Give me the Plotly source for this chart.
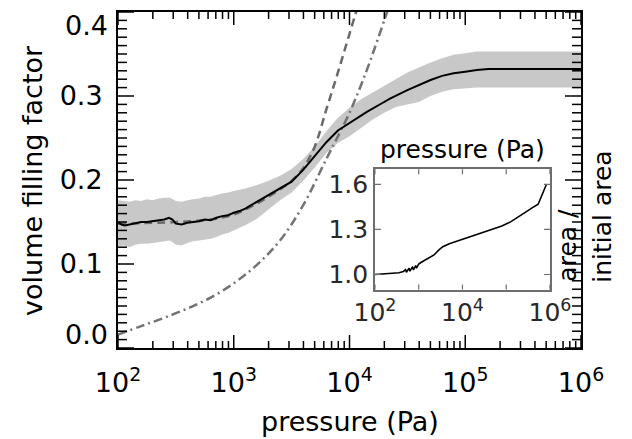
import math
import plotly.graph_objects as go

# ---------------- data ----------------
# main black curve: log10(pressure) and volume filling factor
main_logp = [2.00, 2.03, 2.06, 2.10, 2.15, 2.20, 2.25, 2.30, 2.35, 2.40, 2.44, 2.47, 2.50,
             2.55, 2.60, 2.65, 2.70, 2.75, 2.80, 2.85, 2.90, 2.95, 3.00, 3.05, 3.10, 3.15,
             3.20, 3.25, 3.30, 3.35, 3.40, 3.45, 3.50, 3.60, 3.70, 3.80, 3.90, 4.00, 4.06,
             4.15, 4.25, 4.35, 4.50, 4.60, 4.70, 4.80, 4.90, 5.00, 5.10, 5.20, 5.50, 6.00]
main_phi = [0.150, 0.147, 0.146, 0.147, 0.149, 0.150, 0.150, 0.151, 0.152, 0.153, 0.155, 0.153, 0.148,
            0.147, 0.149, 0.150, 0.151, 0.153, 0.152, 0.155, 0.157, 0.158, 0.161, 0.163, 0.166, 0.170,
            0.174, 0.177, 0.182, 0.186, 0.190, 0.194, 0.198, 0.212, 0.228, 0.245, 0.259, 0.268, 0.273,
            0.281, 0.289, 0.297, 0.307, 0.313, 0.319, 0.324, 0.327, 0.329, 0.331, 0.332, 0.332, 0.332]

# grey uncertainty band
band_logp = [2.00, 2.05, 2.10, 2.15, 2.20, 2.25, 2.30, 2.35, 2.40, 2.45, 2.50, 2.55, 2.60, 2.65,
             2.70, 2.75, 2.80, 2.85, 2.90, 2.95, 3.00, 3.10, 3.20, 3.30, 3.40, 3.50, 3.60, 3.70,
             3.80, 3.90, 4.00, 4.10, 4.20, 4.30, 4.40, 4.50, 4.60, 4.70, 4.80, 4.90, 5.00, 5.10,
             5.20, 6.00]
band_upper = [0.176, 0.175, 0.174, 0.176, 0.175, 0.177, 0.176, 0.178, 0.179, 0.179, 0.175, 0.174,
              0.176, 0.177, 0.178, 0.180, 0.180, 0.182, 0.184, 0.185, 0.187, 0.190, 0.194, 0.199,
              0.205, 0.213, 0.225, 0.240, 0.258, 0.274, 0.286, 0.296, 0.304, 0.312, 0.321, 0.328,
              0.334, 0.340, 0.345, 0.349, 0.351, 0.353, 0.353, 0.353]
band_lower = [0.121, 0.122, 0.120, 0.123, 0.124, 0.124, 0.125, 0.126, 0.127, 0.128, 0.123, 0.122,
              0.125, 0.127, 0.128, 0.129, 0.130, 0.132, 0.135, 0.137, 0.140, 0.146, 0.154, 0.165,
              0.176, 0.185, 0.199, 0.215, 0.232, 0.244, 0.252, 0.262, 0.272, 0.280, 0.287, 0.290,
              0.293, 0.300, 0.305, 0.308, 0.309, 0.310, 0.310, 0.310]

# dashed model curve
dash_logp = [2.0, 2.5, 2.8, 3.0, 3.2, 3.4, 3.5, 3.6, 3.7, 3.8, 3.9, 4.0, 4.05, 4.07]
dash_phi = [0.148, 0.150, 0.153, 0.159, 0.172, 0.189, 0.199, 0.214, 0.240, 0.284, 0.328, 0.374, 0.397, 0.406]

# dash-dot model curve
dashdot_logp = [2.0, 2.2, 2.4, 2.6, 2.8, 3.0, 3.2, 3.4, 3.6, 3.8, 3.9, 4.0, 4.1, 4.2, 4.3, 4.33]
dashdot_phi = [0.016, 0.026, 0.036, 0.047, 0.060, 0.077, 0.099, 0.128, 0.170, 0.225, 0.252, 0.280,
               0.313, 0.350, 0.390, 0.402]

# inset: area / initial area
inset_logp = [2.00, 2.20, 2.40, 2.55, 2.65, 2.70, 2.72, 2.78, 2.80, 2.86, 2.88, 2.93, 2.95, 3.00,
              3.05, 3.15, 3.25, 3.35, 3.45, 3.55, 3.70, 3.90, 4.10, 4.30, 4.50, 4.70, 4.90, 5.10,
              5.30, 5.47, 5.60, 5.73, 5.92]
inset_area = [1.000, 1.003, 1.007, 1.012, 1.020, 1.032, 1.015, 1.042, 1.022, 1.052, 1.030, 1.060,
              1.042, 1.070, 1.080, 1.095, 1.110, 1.130, 1.160, 1.185, 1.205, 1.225, 1.245, 1.265,
              1.285, 1.305, 1.322, 1.350, 1.385, 1.420, 1.445, 1.467, 1.600]

x_tickvals = [1e2, 1e3, 1e4, 1e5, 1e6]
x_ticktext = ["10<sup>2</sup>", "10<sup>3</sup>", "10<sup>4</sup>", "10<sup>5</sup>", "10<sup>6</sup>"]
y_tickvals = [0.0, 0.1, 0.2, 0.3, 0.4]
y_ticktext = ["", "0.1", "0.2", "0.3", ""]
inset_x_ticktext = ["10<sup>2</sup>", "", "10<sup>4</sup>", "", "10<sup>6</sup>"]
inset_y_tickvals = [1.0, 1.3, 1.6]
inset_y_ticktext = ["1.0", "1.3", "1.6"]

# ---------------- figure ----------------
def p(v):
    return [10 ** a for a in v]

FONT = "DejaVu Sans"
fig = go.Figure()

fig.add_trace(go.Scatter(x=p(band_logp), y=band_lower, mode="lines", line=dict(width=0),
                         showlegend=False, hoverinfo="skip"))
fig.add_trace(go.Scatter(x=p(band_logp), y=band_upper, mode="lines", line=dict(width=0),
                         fill="tonexty", fillcolor="rgb(200,200,200)", showlegend=False,
                         hoverinfo="skip"))
fig.add_trace(go.Scatter(x=p(dash_logp), y=dash_phi, mode="lines", showlegend=False,
                         line=dict(color="rgb(105,105,105)", width=2.5, dash="8px,5px", shape="spline")))
fig.add_trace(go.Scatter(x=p(dashdot_logp), y=dashdot_phi, mode="lines", showlegend=False,
                         line=dict(color="rgb(115,115,115)", width=2.5, dash="9px,4px,2px,4px",
                                   shape="spline")))
fig.add_trace(go.Scatter(x=p(main_logp), y=main_phi, mode="lines", showlegend=False,
                         line=dict(color="black", width=2)))
fig.add_trace(go.Scatter(x=p(inset_logp), y=inset_area, mode="lines", showlegend=False,
                         xaxis="x2", yaxis="y2", line=dict(color="black", width=1.6)))

fig.update_layout(
    width=632, height=439,
    margin=dict(l=118, r=51, t=10, b=91),
    paper_bgcolor="white", plot_bgcolor="white",
    font=dict(family=FONT, size=27, color="black"),
    xaxis=dict(type="log", range=[2, 6], domain=[0, 1], showgrid=False, zeroline=False,
               showline=True, linecolor="black", linewidth=2, mirror=True,
               tickvals=x_tickvals, ticktext=x_ticktext, ticklabelstandoff=10,
               tickfont=dict(family=FONT, size=27)),
    yaxis=dict(range=[0, 0.4], domain=[0, 1], showgrid=False, zeroline=False,
               showline=True, linecolor="black", linewidth=2, mirror=True,
               tickvals=y_tickvals, ticktext=y_ticktext, ticklabelstandoff=8,
               tickfont=dict(family=FONT, size=27)),
    xaxis2=dict(type="log", range=[2, 6], domain=[0.555, 0.933], anchor="y2",
                showgrid=False, zeroline=False, showline=True, linecolor="rgb(110,110,110)",
                linewidth=1.5, mirror=True, tickvals=x_tickvals, ticktext=inset_x_ticktext,
                tickangle=0, tickfont=dict(family=FONT, size=25, color="rgb(40,40,40)")),
    yaxis2=dict(range=[0.9, 1.7], domain=[0.174, 0.532], anchor="x2",
                showgrid=False, zeroline=False, showline=True, linecolor="rgb(110,110,110)",
                linewidth=1.5, mirror=True, tickvals=inset_y_tickvals, ticktext=inset_y_ticktext,
                tickfont=dict(family=FONT, size=25, color="rgb(40,40,40)")),
)

# ---------------- tick marks drawn as pixel-sized shapes (inside, mirrored) ----------------
minor_x = [k * 10 ** e for e in range(2, 6) for k in range(2, 10)]
minor_y = [i / 100 for i in range(1, 40) if i % 10 != 0]


def xfrac(v):
    return (math.log10(v) - 2) / 4


def add_xticks(xr, yr, vals, length, color, width):
    for v in vals:
        f = xfrac(v)
        for anchor, sign in ((0, 1), (1, -1)):
            fig.add_shape(type="line", xref=xr, yref=yr, x0=f, x1=f,
                          ysizemode="pixel", yanchor=anchor, y0=0, y1=sign * length,
                          line=dict(color=color, width=width))


def add_yticks(xr, yr, vals, length, color, width):
    for v in vals:
        for anchor, sign in ((0, 1), (1, -1)):
            fig.add_shape(type="line", xref=xr, yref=yr, y0=v, y1=v,
                          xsizemode="pixel", xanchor=anchor, x0=0, x1=sign * length,
                          line=dict(color=color, width=width))


add_xticks("x domain", "y domain", x_tickvals, 13, "black", 1.5)
add_xticks("x domain", "y domain", minor_x, 7, "black", 1.5)
add_yticks("x domain", "y", y_tickvals, 16, "black", 1.5)
add_yticks("x domain", "y", minor_y, 9, "black", 1.5)
add_xticks("x2 domain", "y2 domain", x_tickvals, 5, "rgb(110,110,110)", 1.2)
add_yticks("x2 domain", "y2", inset_y_tickvals, 6, "rgb(110,110,110)", 1.2)

annots = [
    dict(text="0.4", x=0, xref="paper", xanchor="right", xshift=-8, y=0.4, yref="y",
         yanchor="top", yshift=4, font=dict(size=27)),
    dict(text="0.0", x=0, xref="paper", xanchor="right", xshift=-8, y=0.0, yref="y",
         yanchor="bottom", yshift=-4, font=dict(size=27)),
    dict(text="pressure (Pa)", x=0.5, xref="paper", y=-0.219, yref="paper",
         xanchor="center", yanchor="middle", font=dict(size=27)),
    dict(text="volume filling factor", x=-0.186, xref="paper", y=0.5, yref="paper",
         xanchor="center", yanchor="middle", textangle=-90, font=dict(size=27)),
    dict(text="pressure (Pa)", x=0.744, xref="paper", y=0.592, yref="paper",
         xanchor="center", yanchor="middle", font=dict(size=25)),
    dict(text="area /", x=0.970, xref="paper", y=0.305, yref="paper",
         xanchor="center", yanchor="middle", textangle=-90, font=dict(size=25)),
    dict(text="initial area", x=1.0475, xref="paper", y=0.3905, yref="paper",
         xanchor="center", yanchor="middle", textangle=-90, font=dict(size=25)),
]
for a in annots:
    a["showarrow"] = False
    fig.add_annotation(**a)

fig.write_html("out.html", config={"displayModeBar": False},
               post_script="document.body.style.margin='0';")
